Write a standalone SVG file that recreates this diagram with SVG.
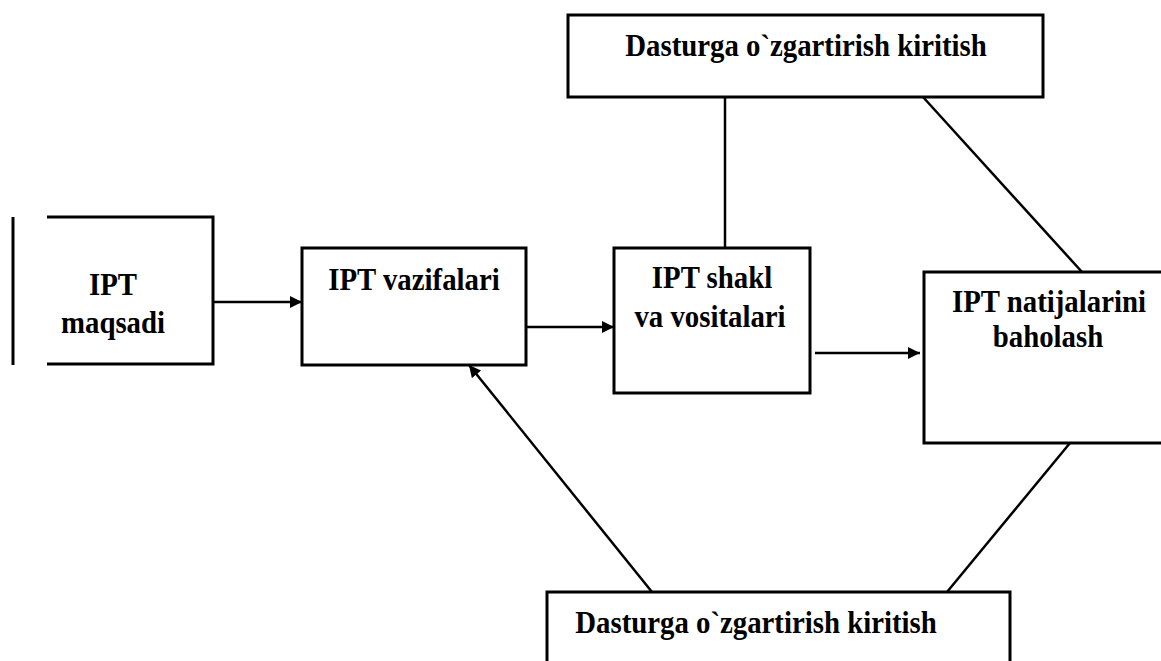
<svg xmlns="http://www.w3.org/2000/svg" width="1161" height="661" viewBox="0 0 1161 661">
<style>
.box{fill:#fff;stroke:#000;stroke-width:3;}
.edge{fill:none;stroke:#000;stroke-width:3;}
.con{fill:none;stroke:#000;stroke-width:2.5;}
.t{font-family:"Liberation Serif","Times New Roman",serif;font-weight:bold;font-size:32px;fill:#000;text-anchor:middle;}
</style>
<defs>
<marker id="arr" markerUnits="userSpaceOnUse" markerWidth="14" markerHeight="12" refX="12" refY="6" orient="auto">
<path d="M0,0 L12,6 L0,12 Z" fill="#000"/>
</marker>
</defs>
<rect width="1161" height="661" fill="#fff"/>
<g id="connectors">
<line class="con" x1="213" y1="302" x2="302" y2="302" marker-end="url(#arr)"/>
<line class="con" x1="526" y1="327" x2="614" y2="327" marker-end="url(#arr)"/>
<line class="con" x1="815" y1="353" x2="920" y2="353" marker-end="url(#arr)"/>
<line class="con" x1="725" y1="97" x2="725" y2="248"/>
<line class="con" x1="923" y1="97" x2="1082" y2="272"/>
<line class="con" x1="652" y1="592" x2="469" y2="365" marker-end="url(#arr)"/>
<line class="con" x1="1070" y1="443" x2="947" y2="592"/>
</g>
<g id="node-maqsadi">
<line class="edge" x1="13" y1="217" x2="13" y2="365"/>
<path class="edge" d="M47,217 H213 V364 H47"/>
<text class="t" transform="translate(113,295) scale(0.9,1)">IPT</text>
<text class="t" transform="translate(113,333) scale(0.9,1)">maqsadi</text>
</g>
<g id="node-vazifalari">
<rect class="box" x="302" y="248" width="224" height="117"/>
<text class="t" transform="translate(414,290) scale(0.9,1)">IPT vazifalari</text>
</g>
<g id="node-shakl">
<rect class="box" x="614" y="248" width="196" height="145"/>
<text class="t" transform="translate(712,288) scale(0.9,1)">IPT shakl</text>
<text class="t" transform="translate(710,327) scale(0.9,1)">va vositalari</text>
</g>
<g id="node-natijalar">
<path class="edge" d="M1163,272 H924 V443 H1163"/>
<text class="t" transform="translate(1049,312) scale(0.9,1)">IPT natijalarini</text>
<text class="t" transform="translate(1048,347) scale(0.9,1)">baholash</text>
</g>
<g id="node-top">
<rect class="box" x="568" y="15" width="475" height="82"/>
<text class="t" transform="translate(806,56) scale(0.9,1)">Dasturga o`zgartirish kiritish</text>
</g>
<g id="node-bottom">
<path class="edge" d="M547,664 V592 H1010 V664"/>
<text class="t" transform="translate(756,633) scale(0.9,1)">Dasturga o`zgartirish kiritish</text>
</g>
</svg>
